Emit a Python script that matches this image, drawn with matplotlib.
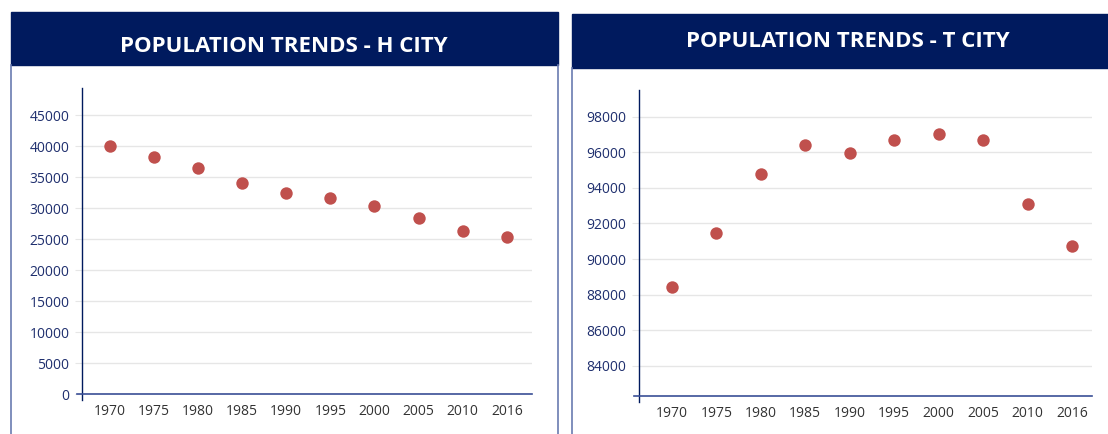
import matplotlib.pyplot as plt
from matplotlib.patches import Rectangle
from matplotlib.lines import Line2D

# Data
years = ['1970', '1975', '1980', '1985', '1990', '1995', '2000', '2005', '2010', '2016']
h_city = [40100, 38200, 36500, 34100, 32500, 31600, 30400, 28400, 26300, 25400]
t_city = [88400, 91450, 94800, 96400, 95950, 96700, 97050, 96700, 93100, 90750]
h_ticks = [0, 5000, 10000, 15000, 20000, 25000, 30000, 35000, 40000, 45000]
t_ticks = [84000, 86000, 88000, 90000, 92000, 94000, 96000, 98000]

NAVY = '#001a5e'
DOT = '#c0504d'
GRID = '#e6e6e6'
YLAB = '#1f2f6e'
XLAB = '#333333'
BORDER = '#6a7bb0'

plt.rcParams['font.family'] = ['Open Sans', 'DejaVu Sans']

W, H = 1108, 434
fig = plt.figure(figsize=(W / 100, H / 100), dpi=100)
fig.patch.set_facecolor('white')


def fx(x):
    return x / W


def fy(y):
    return 1 - y / H


def header(x0, x1, y0, y1, text, tx, baseline):
    fig.patches.append(Rectangle((fx(x0), fy(y1)), fx(x1 - x0), (y1 - y0) / H,
                                 transform=fig.transFigure, color=NAVY, zorder=0))
    fig.text(fx(tx), fy(baseline), text, color='white', fontsize=16,
             fontweight='bold', ha='center', va='baseline')


def vline(x, y0, y1):
    fig.lines.append(Line2D([fx(x), fx(x)], [fy(y0), fy(y1)], transform=fig.transFigure,
                            color=BORDER, lw=1.2))


def panel(box, values, ticks, ylim, xlim):
    x0, y0, x1, y1 = box
    ax = fig.add_axes([fx(x0), fy(y1), fx(x1 - x0), (y1 - y0) / H])
    pos = list(range(len(years)))
    ax.scatter(pos, values, s=80, color=DOT, zorder=3, linewidths=0)
    ax.set_ylim(*ylim)
    ax.set_xlim(*xlim)
    ax.set_yticks(ticks)
    ax.set_yticklabels([str(t) for t in ticks])
    ax.set_xticks(pos)
    ax.set_xticklabels(years)
    ax.grid(axis='y', color=GRID, lw=1)
    ax.set_axisbelow(True)
    for s in ax.spines.values():
        s.set_visible(False)
    ax.tick_params(axis='y', length=5, color=GRID, labelcolor=YLAB, labelsize=10, pad=4)
    ax.tick_params(axis='x', length=0, labelcolor=XLAB, labelsize=10, pad=7)
    w, h = x1 - x0, y1 - y0
    ax.plot([0, 0], [-6 / h, 1], transform=ax.transAxes, color=NAVY, lw=1, clip_on=False)
    ax.plot([-5 / w, 1], [0, 0], transform=ax.transAxes, color='#3a4f96', lw=1.2, clip_on=False)
    return ax


# Left panel - H City
header(11, 558, 12, 65, 'POPULATION TRENDS - H CITY', 284, 52)
vline(11, 65, 434)
vline(558, 65, 434)
panel((82, 88, 532, 394), h_city, h_ticks, (0, 49400), (-0.63, 9.57))

# Right panel - T City
header(572, 1108, 14, 68, 'POPULATION TRENDS - T CITY', 848, 47)
vline(572, 68, 434)
panel((639, 90, 1092, 396), t_city, t_ticks, (82300, 99500), (-0.74, 9.45))

fig.savefig('out.png', dpi=100, facecolor='white')
